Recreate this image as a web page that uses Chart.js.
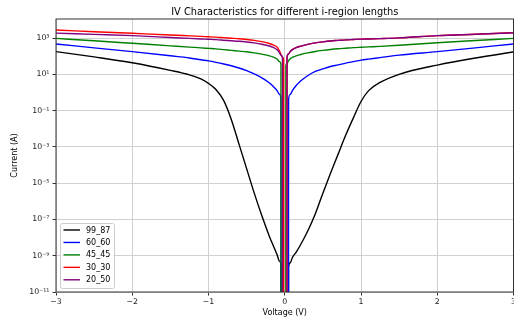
<!DOCTYPE html>
<html>
<head>
<meta charset="utf-8">
<script src="https://cdn.jsdelivr.net/npm/chart.js@4.4.1/dist/chart.umd.min.js"></script>
<style>
html, body { margin: 0; padding: 0; background: #fff; }
</style>
</head>
<body>
<canvas id="iv" width="514" height="324"></canvas>
<script>
// bias voltage (V), shared by all curves
var voltage = [-3, -2.5, -2, -1.5, -1.25, -1.1, -1, -0.9, -0.8, -0.7,
               -0.6, -0.5, -0.4, -0.3, -0.2, -0.15, -0.1, -0.07, -0.05, -0.03,
               -0.015, 0, 0.015, 0.03, 0.05, 0.07, 0.1, 0.15, 0.2, 0.3,
               0.4, 0.5, 0.6, 0.7, 0.8, 0.9, 1, 1.1, 1.25, 1.5,
               2, 2.5, 3];

// log10 of current (A); null = zero current
var log_99_87 = [2.25, 1.96, 1.64, 1.22, 0.97, 0.75, 0.5, 0.15, -0.45, -1.5,
                 -2.85, -4.2, -5.55, -6.8, -7.95, -8.45, -8.95, -9.3, -9.5, null,
                 null, null, null, null, -9.6, -9.4, -9.1, -8.8, -8.45, -7.65,
                 -6.7, -5.55, -4.45, -3.4, -2.35, -1.4, -0.5, 0.1, 0.55, 1.0,
                 1.51, 1.9, 2.23];
var log_60_60 = [2.67, 2.46, 2.25, 2.02, 1.9, 1.8, 1.74, 1.66, 1.57, 1.47,
                 1.35, 1.2, 1.02, 0.8, 0.52, 0.33, 0.1, -0.1, -0.35, null,
                 null, null, null, null, -0.4, -0.12, 0.1, 0.38, 0.6, 0.92,
                 1.16, 1.3, 1.43, 1.52, 1.62, 1.7, 1.78, 1.84, 1.92, 2.06,
                 2.25, 2.46, 2.67];
var log_45_45 = [2.98, 2.85, 2.71, 2.57, 2.5, 2.46, 2.43, 2.4, 2.36, 2.32,
                 2.28, 2.24, 2.18, 2.11, 2.02, 1.95, 1.84, 1.7, 1.55, null,
                 null, null, 1.45, 1.6, 1.75, 1.85, 1.93, 2.02, 2.08, 2.18,
                 2.26, 2.32, 2.37, 2.41, 2.44, 2.47, 2.49, 2.51, 2.54, 2.6,
                 2.74, 2.86, 2.98];
var log_30_30 = [3.44, 3.35, 3.26, 3.17, 3.12, 3.09, 3.07, 3.05, 3.02, 2.99,
                 2.96, 2.92, 2.87, 2.8, 2.7, 2.62, 2.5, 2.3, 2.1, 1.95,
                 1.8, null, null, 1.95, 2.12, 2.25, 2.36, 2.47, 2.54, 2.65,
                 2.73, 2.79, 2.84, 2.87, 2.9, 2.92, 2.94, 2.95, 2.97, 3.01,
                 3.13, 3.21, 3.29];
var log_20_50 = [3.27, 3.2, 3.13, 3.03, 2.98, 2.95, 2.93, 2.91, 2.88, 2.85,
                 2.82, 2.78, 2.73, 2.66, 2.56, 2.48, 2.35, 2.2, 2.05, 1.9,
                 null, null, null, 1.95, 2.12, 2.25, 2.36, 2.47, 2.54, 2.65,
                 2.73, 2.79, 2.84, 2.87, 2.9, 2.92, 2.94, 2.95, 2.97, 3.01,
                 3.13, 3.21, 3.29];

var labels = ['99_87', '60_60', '45_45', '30_30', '20_50'];
var colors = ['#000000', '#0000ff', '#008000', '#ff0000', '#800080'];
var yTickExp = [-11, -9, -7, -5, -3, -1, 1, 3];
var xTicks = [-3, -2, -1, 0, 1, 2, 3];

var FONT = 'DejaVu Sans';
var CLIP = 1e-300; // zero current clipped like a log axis does

function toPoints(logs) {
    return voltage.map(function (v, i) {
        var e = logs[i];
        return { x: v, y: e === null ? CLIP : Math.pow(10, e) };
    });
}

var series = [log_99_87, log_60_60, log_45_45, log_30_30, log_20_50];
var datasets = series.map(function (s, k) {
    return {
        label: labels[k],
        data: toPoints(s),
        borderColor: colors[k],
        backgroundColor: colors[k],
        borderWidth: 1.4,
        pointRadius: 0,
        cubicInterpolationMode: 'monotone',
        capBezierPoints: false,
        fill: false,
        order: -k   // later series drawn on top
    };
});

var supMap = { '-': '\u207B', '0': '\u2070', '1': '\u00B9', '2': '\u00B2', '3': '\u00B3',
               '4': '\u2074', '5': '\u2075', '6': '\u2076', '7': '\u2077', '8': '\u2078', '9': '\u2079' };
function sup(n) {
    return String(n).split('').map(function (c) { return supMap[c]; }).join('');
}

var framePlugin = {
    id: 'frame',
    afterDraw: function (chart) {
        var ctx = chart.ctx, a = chart.chartArea;
        ctx.save();
        // spines
        ctx.strokeStyle = '#333333';
        ctx.lineWidth = 1;
        ctx.strokeRect(a.left, a.top, a.right - a.left, a.bottom - a.top);
        // title
        ctx.fillStyle = '#000';
        ctx.font = '9.8px "' + FONT + '"';
        ctx.textAlign = 'center';
        ctx.textBaseline = 'alphabetic';
        ctx.fillText('IV Characteristics for different i-region lengths', (a.left + a.right) / 2, 15);
        // legend
        var bx = 60.5, by = 223.5, bw = 54, bh = 65, r = 2;
        ctx.fillStyle = 'rgba(255,255,255,0.8)';
        ctx.strokeStyle = '#cccccc';
        ctx.beginPath();
        ctx.moveTo(bx + r, by);
        ctx.arcTo(bx + bw, by, bx + bw, by + bh, r);
        ctx.arcTo(bx + bw, by + bh, bx, by + bh, r);
        ctx.arcTo(bx, by + bh, bx, by, r);
        ctx.arcTo(bx, by, bx + bw, by, r);
        ctx.closePath();
        ctx.fill();
        ctx.stroke();
        ctx.font = '8px "' + FONT + '"';
        ctx.textAlign = 'left';
        ctx.textBaseline = 'middle';
        chart.data.datasets.forEach(function (ds, i) {
            var y = 230 + i * 12.45;
            ctx.strokeStyle = ds.borderColor;
            ctx.lineWidth = 1.4;
            ctx.beginPath();
            ctx.moveTo(63.5, y);
            ctx.lineTo(80, y);
            ctx.stroke();
            ctx.fillStyle = '#000';
            ctx.fillText(ds.label, 86, y + 0.5);
        });
        ctx.restore();
    }
};

Chart.defaults.font.family = FONT;

new Chart(document.getElementById('iv'), {
    type: 'line',
    data: { datasets: datasets },
    options: {
        responsive: false,
        animation: false,
        events: [],
        layout: { padding: { top: 19, right: 0.5, left: 0, bottom: 0 } },
        plugins: { legend: { display: false }, title: { display: false }, tooltip: { enabled: false } },
        scales: {
            x: {
                type: 'linear',
                min: -3,
                max: 3,
                afterBuildTicks: function (scale) {
                    scale.ticks = xTicks.map(function (v) { return { value: v }; });
                },
                afterFit: function (scale) {
                    scale.height = 32;
                    scale.paddingLeft = 0;
                    scale.paddingRight = 0;
                },
                ticks: {
                    autoSkip: false,
                    maxRotation: 0,
                    padding: 1.5,
                    color: '#222',
                    font: { size: 7.8 },
                    callback: function (v) { return v < 0 ? '\u2212' + Math.abs(v) : String(v); }
                },
                grid: { color: '#d0d0d0', lineWidth: 1, tickLength: 3.5, tickColor: '#333' },
                border: { display: false },
                title: { display: true, text: 'Voltage (V)', color: '#000', font: { size: 8 }, padding: { bottom: 6.5, top: 0 } }
            },
            y: {
                type: 'logarithmic',
                min: 1e-11,
                max: 1.12e4,
                afterBuildTicks: function (scale) {
                    scale.ticks = yTickExp.map(function (e) { return { value: Math.pow(10, e) }; });
                },
                afterFit: function (scale) {
                    scale.width = 56;
                },
                ticks: {
                    autoSkip: false,
                    padding: 3,
                    color: '#222',
                    font: { size: 7.8 },
                    callback: function (v) { return '10' + sup(Math.round(Math.log10(v))); }
                },
                grid: { color: '#d0d0d0', lineWidth: 1, tickLength: 3.5, tickColor: '#333' },
                border: { display: false },
                title: { display: true, text: 'Current (A)', color: '#000', font: { size: 8 }, padding: { top: 10, bottom: 0 } }
            }
        }
    },
    plugins: [framePlugin]
});
</script>
</body>
</html>
